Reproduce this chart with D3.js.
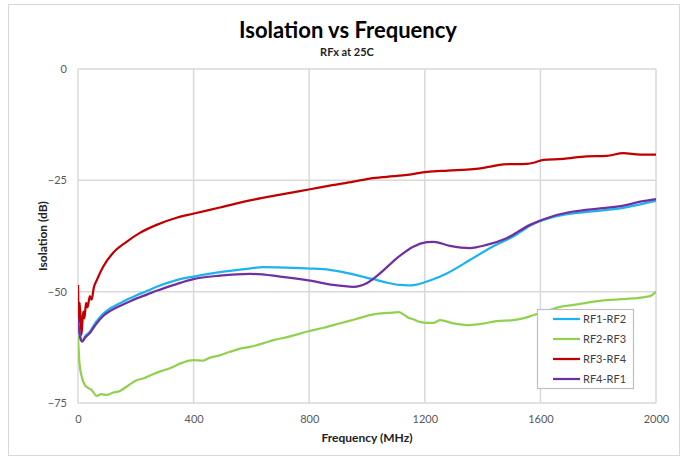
<!DOCTYPE html>
<html>
<head>
<meta charset="utf-8">
<script src="https://cdn.jsdelivr.net/npm/d3@7"></script>
<style>
  html, body { margin: 0; padding: 0; background: #fff; }
  svg { display: block; font-family: "Lato", "Open Sans", sans-serif; }
</style>
</head>
<body>
<svg id="chart" width="689" height="459"></svg>
<script>
const xTicks = [0, 400, 800, 1200, 1600, 2000];
const yTicks = [0, -25, -50, -75];

const seriesNames = ["RF1-RF2", "RF2-RF3", "RF3-RF4", "RF4-RF1"];
const seriesColors = ["#1CB3F0", "#92D050", "#C00000", "#7030A0"];

const rf12Freq = [0, 8, 15, 25, 41, 60, 88, 115, 145, 175, 203, 240, 272, 341, 399, 491, 595, 641, 720, 803, 870, 918, 970, 1022, 1070, 1114, 1140, 1172, 1218, 1276, 1356, 1437, 1506, 1575, 1645, 1714, 1806, 1887, 1945, 2000];
const rf12Db = [-57, -60, -61.0, -60, -59.0, -57, -54.9, -53.6, -52.6, -51.6, -50.8, -49.8, -48.9, -47.4, -46.6, -45.6, -44.8, -44.5, -44.6, -44.8, -45.1, -45.6, -46.4, -47.2, -48.0, -48.5, -48.6, -48.4, -47.5, -45.9, -42.9, -39.8, -37.6, -34.8, -33.2, -32.4, -31.8, -31.2, -30.4, -29.6];

const rf23Freq = [0, 5, 13, 24, 35, 47, 65, 80, 99, 120, 145, 175, 203, 230, 261, 290, 318, 360, 399, 430, 457, 490, 526, 561, 595, 640, 676, 730, 791, 850, 907, 960, 1022, 1060, 1091, 1110, 1126, 1145, 1160, 1183, 1207, 1230, 1253, 1299, 1356, 1400, 1449, 1506, 1540, 1575, 1620, 1668, 1710, 1760, 1829, 1880, 1922, 1979, 2000];
const rf23Db = [-60, -66, -69.1, -71.0, -71.6, -72.1, -73.4, -73.0, -73.2, -72.7, -72.3, -71.0, -69.9, -69.4, -68.5, -67.8, -67.2, -66.0, -65.4, -65.5, -64.8, -64.3, -63.5, -62.8, -62.4, -61.6, -60.9, -60.1, -59.0, -58.1, -57.1, -56.2, -55.1, -54.8, -54.7, -54.6, -55.1, -55.9, -56.2, -56.8, -57.0, -57.0, -56.4, -57.1, -57.5, -57.2, -56.6, -56.4, -56.0, -55.3, -54.4, -53.4, -53.0, -52.5, -51.9, -51.7, -51.5, -51.0, -50.0];

const rf34Freq = [0, 3, 6, 12, 18, 22, 28, 33, 41, 47, 55, 65, 87, 121, 168, 214, 272, 341, 398, 491, 595, 700, 803, 880, 953, 1010, 1068, 1140, 1207, 1280, 1368, 1420, 1472, 1552, 1580, 1610, 1679, 1760, 1829, 1887, 1945, 2000];
const rf34Db = [-48.5, -57, -52.5, -59.7, -54.5, -56, -52.5, -53.5, -51, -51.8, -49, -47.4, -44.4, -41.3, -38.8, -36.8, -35.0, -33.4, -32.5, -31.1, -29.5, -28.2, -27.0, -26.1, -25.3, -24.6, -24.2, -23.8, -23.1, -22.8, -22.5, -22.0, -21.4, -21.3, -21.0, -20.4, -20.2, -19.6, -19.5, -18.9, -19.2, -19.2];

const rf41Freq = [0, 8, 15, 25, 41, 60, 88, 115, 145, 175, 203, 240, 272, 341, 399, 491, 595, 699, 803, 883, 953, 999, 1045, 1103, 1160, 1207, 1230, 1287, 1356, 1414, 1483, 1564, 1645, 1714, 1806, 1887, 1945, 2000];
const rf41Db = [-56, -60.5, -61.2, -60.3, -59.3, -57.5, -55.4, -54.2, -53.2, -52.3, -51.5, -50.6, -49.8, -48.3, -47.2, -46.4, -46.0, -46.6, -47.5, -48.5, -48.9, -48.1, -45.9, -42.5, -39.9, -38.9, -38.8, -39.7, -40.2, -39.5, -38.0, -35.0, -33.0, -32.0, -31.3, -30.7, -29.8, -29.2];

const seriesFreq = [rf12Freq, rf23Freq, rf34Freq, rf41Freq];
const seriesDb = [rf12Db, rf23Db, rf34Db, rf41Db];

const svg = d3.select("#chart");
const plot = { left: 78, right: 656, top: 69, bottom: 403 };

// outer chart border
svg.append("rect").attr("x", 8.5).attr("y", 4.5).attr("width", 671).attr("height", 451)
  .attr("fill", "#fff").attr("stroke", "#d9d9d9").attr("stroke-width", 1);

const x = d3.scaleLinear().domain([0, 2000]).range([plot.left, plot.right]);
const y = d3.scaleLinear().domain([-75, 0]).range([plot.bottom, plot.top]);

// grid
const grid = svg.append("g");
grid.selectAll("line.v").data(xTicks).enter().append("line")
  .attr("x1", d => x(d)).attr("x2", d => x(d))
  .attr("y1", plot.top).attr("y2", plot.bottom)
  .attr("stroke", "#d9d9d9").attr("stroke-width", 1.5);
grid.selectAll("line.h").data(yTicks).enter().append("line")
  .attr("y1", d => y(d)).attr("y2", d => y(d))
  .attr("x1", plot.left).attr("x2", plot.right)
  .attr("stroke", "#d9d9d9").attr("stroke-width", 1.5);

// axes (labels only)
const xAxis = d3.axisBottom(x).tickValues(xTicks).tickFormat(d3.format("d")).tickSize(0).tickPadding(12);
const gx = svg.append("g").attr("transform", `translate(0,${plot.bottom})`).call(xAxis);
gx.select(".domain").remove();
gx.selectAll("text").attr("fill", "#595959").style("font-size", "11px").style("font-family", "Lato, sans-serif");

const yAxis = d3.axisLeft(y).tickValues(yTicks).tickFormat(d3.format("d")).tickSize(0).tickPadding(11);
const gy = svg.append("g").attr("transform", `translate(${plot.left},0)`).call(yAxis);
gy.select(".domain").remove();
gy.selectAll("text").attr("fill", "#595959").style("font-size", "11px").style("font-family", "Lato, sans-serif");

// clip
svg.append("clipPath").attr("id", "clip").append("rect")
  .attr("x", plot.left).attr("y", plot.top - 2)
  .attr("width", plot.right - plot.left).attr("height", plot.bottom - plot.top + 4);

const line = d3.line().x(d => x(d[0])).y(d => y(d[1])).curve(d3.curveMonotoneX);
const lines = svg.append("g").attr("clip-path", "url(#clip)");
seriesNames.forEach((name, i) => {
  const pts = seriesFreq[i].map((f, j) => [f, seriesDb[i][j]]);
  lines.append("path").datum(pts)
    .attr("d", line)
    .attr("fill", "none")
    .attr("stroke", seriesColors[i])
    .attr("stroke-width", 2.25)
    .attr("stroke-linejoin", "round");
});

// title
svg.append("text").attr("x", 348).attr("y", 38).attr("text-anchor", "middle")
  .style("font-size", "22px").style("font-weight", "bold").attr("fill", "#000")
  .text("Isolation vs Frequency");
svg.append("text").attr("x", 347).attr("y", 56).attr("text-anchor", "middle")
  .style("font-size", "11px").style("font-weight", "bold").attr("fill", "#222")
  .text("RFx at 25C");

// axis titles
svg.append("text").attr("x", 367).attr("y", 442).attr("text-anchor", "middle")
  .style("font-size", "12px").style("font-weight", "bold").attr("fill", "#222")
  .text("Frequency (MHz)");
svg.append("text").attr("transform", `translate(47,${(plot.top + plot.bottom) / 2}) rotate(-90)`)
  .attr("text-anchor", "middle")
  .style("font-size", "12px").style("font-weight", "bold").attr("fill", "#222")
  .text("Isolation (dB)");

// legend
const lg = svg.append("g");
lg.append("rect").attr("x", 537.5).attr("y", 309.5).attr("width", 96).attr("height", 79)
  .attr("fill", "#fff").attr("stroke", "#bfbfbf").attr("stroke-width", 1.2);
seriesNames.forEach((name, i) => {
  const yy = 319 + i * 20;
  lg.append("line").attr("x1", 553).attr("x2", 580).attr("y1", yy).attr("y2", yy)
    .attr("stroke", seriesColors[i]).attr("stroke-width", 2.25);
  lg.append("text").attr("x", 583).attr("y", yy + 4)
    .style("font-size", "11px").attr("fill", "#404040").text(name);
});
</script>
</body>
</html>
